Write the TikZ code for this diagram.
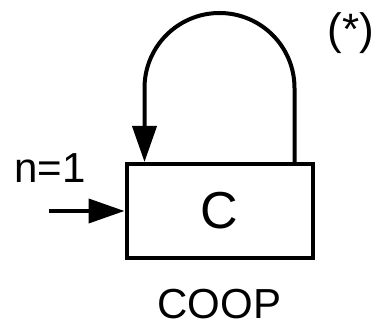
\documentclass[tikz,border=0pt]{standalone}
\usepackage{fontspec}
\setmainfont{Liberation Sans}
\usetikzlibrary{arrows.meta,positioning}

\begin{document}
\begin{tikzpicture}[
    x=1pt, y=1pt,
    coopbox/.style={draw, line width=4pt, minimum width=186pt,
                    minimum height=94pt, inner sep=0pt,
                    font=\fontsize{52}{52}\selectfont},
    lbl/.style={font=\fontsize{42}{42}\selectfont, inner sep=0pt},
    arrow/.style={-{Triangle[length=36pt, width=24pt]}, line width=4pt},
  ]
    \useasboundingbox (0,0) rectangle (377,326);

    % block
    \node[coopbox] (c) at (219.5,115) {C};
    \node[lbl, below=29pt of c] (name) {COOP};

    % input
    \coordinate[left=76pt of c.west] (in);
    \draw[arrow] (in) -- (c.west);
    \node[lbl, above=28pt of in, xshift=1.5pt, anchor=base] (n) {n=1};

    % feedback loop
    \draw[arrow] ([xshift=75pt]c.north) -- ++(0,74)
          arc[start angle=0, end angle=180, radius=75]
          -- ([xshift=-75pt]c.north);
    \node[lbl, font=\fontsize{44}{44}\selectfont] (star) at (351,292.5) {(*)};
  \end{tikzpicture}
\end{document}
